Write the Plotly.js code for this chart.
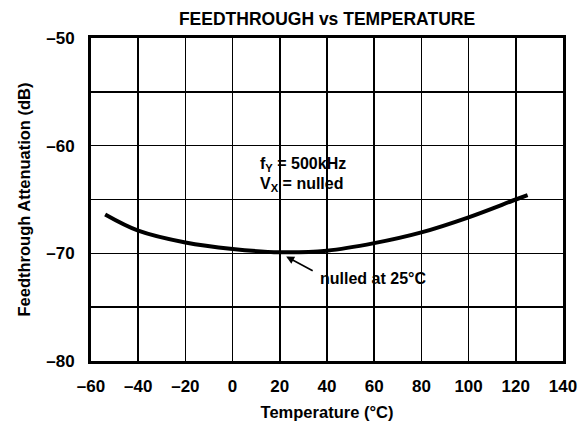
<!DOCTYPE html>
<html>
<head>
<meta charset="utf-8">
<script src="https://cdn.plot.ly/plotly-3.0.1.min.js"></script>
<style>html,body{margin:0;padding:0;background:#fff;}#chart{width:581px;height:427px;}</style>
</head>
<body>
<div id="chart"></div>
<script>
// Data
var temperature = [-54, -40, -20, 0, 20, 40, 60, 80, 100, 120, 125];
var attenuation = [-66.4, -67.9, -69.0, -69.6, -69.9, -69.75, -69.05, -68.05, -66.65, -65.0, -64.6];

var xTickVals = [-60, -40, -20, 0, 20, 40, 60, 80, 100, 120, 140];
var xTickText = ['–60', '–40', '–20', '0', '20', '40', '60', '80', '100', '120', '140'];
var yTickVals = [-80, -70, -60, -50];
var yTickText = ['–80', '–70', '–60', '–50'];

var FONT = 'Liberation Sans, Arial, Helvetica, sans-serif';

var trace = {
  x: temperature,
  y: attenuation,
  mode: 'lines',
  line: {color: '#000', width: 4, shape: 'spline', smoothing: 1},
  hoverinfo: 'skip',
  showlegend: false
};

var layout = {
  width: 581,
  height: 427,
  margin: {l: 91, r: 18, t: 38, b: 66},
  paper_bgcolor: '#fff',
  plot_bgcolor: '#fff',
  font: {family: FONT, color: '#000', size: 16.5, weight: 'bold'},
  title: {
    text: 'FEEDTHROUGH vs TEMPERATURE',
    font: {family: FONT, size: 17.5, color: '#000', weight: 'bold'},
    x: 0.5, xref: 'paper', xanchor: 'center',
    y: 1 - 19 / 427, yref: 'container', yanchor: 'middle'
  },
  xaxis: {
    range: [-60, 140],
    tickmode: 'array', tickvals: xTickVals, ticktext: xTickText,
    showgrid: true, gridcolor: '#000', gridwidth: 1.5,
    showline: true, linecolor: '#000', linewidth: 3, mirror: true,
    zeroline: false, ticks: '',
    ticklabelstandoff: 8,
    tickfont: {family: FONT, size: 17, color: '#000', weight: 'bold'},
    title: {text: 'Temperature (°C)', font: {family: FONT, size: 16.5, color: '#000', weight: 'bold'}, standoff: 12}
  },
  yaxis: {
    range: [-80, -50],
    tickmode: 'array', tickvals: yTickVals, ticktext: yTickText,
    showgrid: true, gridcolor: '#000', gridwidth: 1.5,
    minor: {dtick: 5, showgrid: true, gridcolor: '#000', gridwidth: 1.5, ticks: ''},
    showline: true, linecolor: '#000', linewidth: 3, mirror: true,
    zeroline: false, ticks: '',
    ticklabelstandoff: 10,
    tickfont: {family: FONT, size: 17, color: '#000', weight: 'bold'},
    title: {text: 'Feedthrough Attenuation (dB)', font: {family: FONT, size: 16.5, color: '#000', weight: 'bold'}, standoff: 12}
  },
  annotations: [
    {x: 10.6, y: -61.75, xref: 'x', yref: 'y', xanchor: 'left', yanchor: 'middle',
     text: 'f<sub>Y</sub> = 500kHz', showarrow: false,
     font: {family: FONT, size: 16, color: '#000', weight: 'bold'}},
    {x: 10.6, y: -63.65, xref: 'x', yref: 'y', xanchor: 'left', yanchor: 'middle',
     text: 'V<sub>X</sub> = nulled', showarrow: false,
     font: {family: FONT, size: 16, color: '#000', weight: 'bold'}},
    {x: 36, y: -72.3, xref: 'x', yref: 'y', xanchor: 'left', yanchor: 'middle',
     text: 'nulled at 25°C', showarrow: false,
     font: {family: FONT, size: 16, color: '#000', weight: 'bold'}},
    {x: 22.7, y: -70.3, xref: 'x', yref: 'y', text: '', showarrow: true,
     ax: 28, ay: 15, arrowhead: 2, arrowsize: 1, arrowwidth: 1.6, arrowcolor: '#000'}
  ]
};

Plotly.newPlot('chart', [trace], layout, {displayModeBar: false, staticPlot: true});
</script>
</body>
</html>
